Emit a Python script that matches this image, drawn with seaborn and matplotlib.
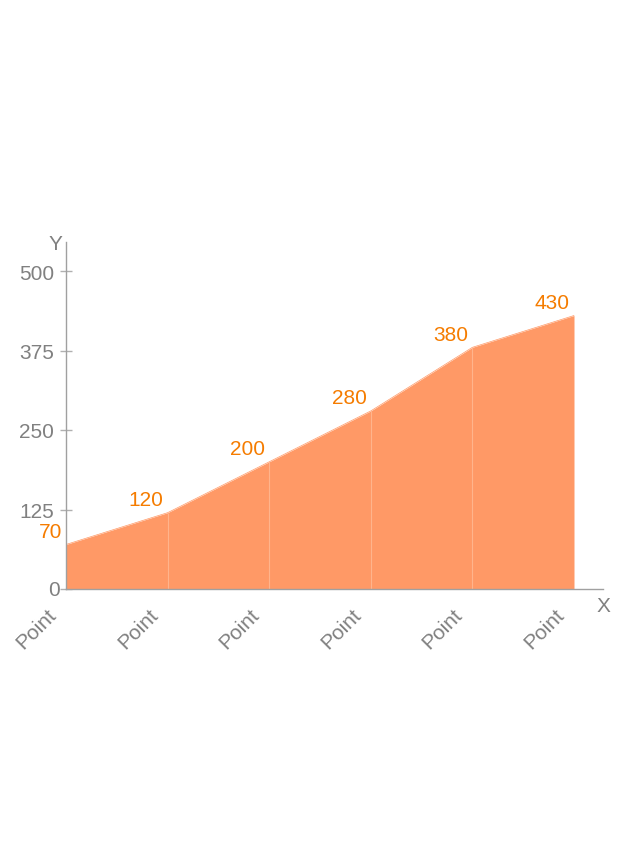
import matplotlib
matplotlib.use("Agg")
import matplotlib.pyplot as plt
import seaborn as sns
import numpy as np
import pandas as pd

categories = ["Point", "Point", "Point", "Point", "Point", "Point"]
values = [70, 120, 200, 280, 380, 430]
y_ticks = [0, 125, 250, 375, 500]

sns.set_theme(style="white")
plt.rcParams['font.family'] = ['Liberation Sans', 'DejaVu Sans']

df = pd.DataFrame({"pos": np.arange(len(values)), "value": values})

fig = plt.figure(figsize=(6.4, 8.62), dpi=100)
ax = fig.add_axes([66/640, 1-590/862, (603-66)/640, (590-243)/862])

fill_color = "#FF9966"
label_color = "#F57C00"
gray = "#808080"
fs = 15

sns.lineplot(data=df, x="pos", y="value", ax=ax, color=fill_color, lw=0.5)
ax.fill_between(df["pos"], 0, df["value"], color=fill_color, lw=0)
# faint seams at inner points
ax.vlines(df["pos"][1:-1], 0, df["value"][1:-1], color="#FFB48C", lw=0.8)

for x, v in zip(df["pos"], df["value"]):
    ax.annotate(str(v), (x, v), xytext=(-3, 5.5), textcoords="offset points",
                ha="right", va="baseline", color=label_color, fontsize=fs)

ax.set_xlim(0, 537/101.6)
ax.set_ylim(0, 347/0.636)
ax.set_xticks(df["pos"])
ax.set_xticklabels([])
for x, c in zip(df["pos"], categories):
    ax.annotate(c, (x, 0), xycoords=("data", "axes fraction"), xytext=(-14, -11),
                textcoords="offset points", rotation=45, ha="right", va="top",
                rotation_mode="anchor", color=gray, fontsize=fs, annotation_clip=False)
ax.set_yticks(y_ticks)
ax.set_yticklabels(["" if t == 0 else str(t) for t in y_ticks], color=gray, fontsize=fs)
ax.annotate(str(y_ticks[0]), (0, y_ticks[0]), xytext=(-4.5, 0), textcoords="offset points",
            ha="right", va="center", color=gray, fontsize=fs, annotation_clip=False)
ax.tick_params(axis="x", length=0)
ax.tick_params(axis="y", direction="inout", length=9, width=1, color="#b0b0b0", pad=4, left=True)
ax.set_xlabel("")
ax.set_ylabel("")

for s in ["top", "right"]:
    ax.spines[s].set_visible(False)
for s in ["left", "bottom"]:
    ax.spines[s].set_color("#a0a0a0")
    ax.spines[s].set_linewidth(1)

fig.text(55/640, 1-244/862, "Y", color=gray, fontsize=fs, ha="center", va="center")
fig.text(603/640, 1-607/862, "X", color=gray, fontsize=fs, ha="center", va="center")

fig.savefig("out.png", dpi=100)
